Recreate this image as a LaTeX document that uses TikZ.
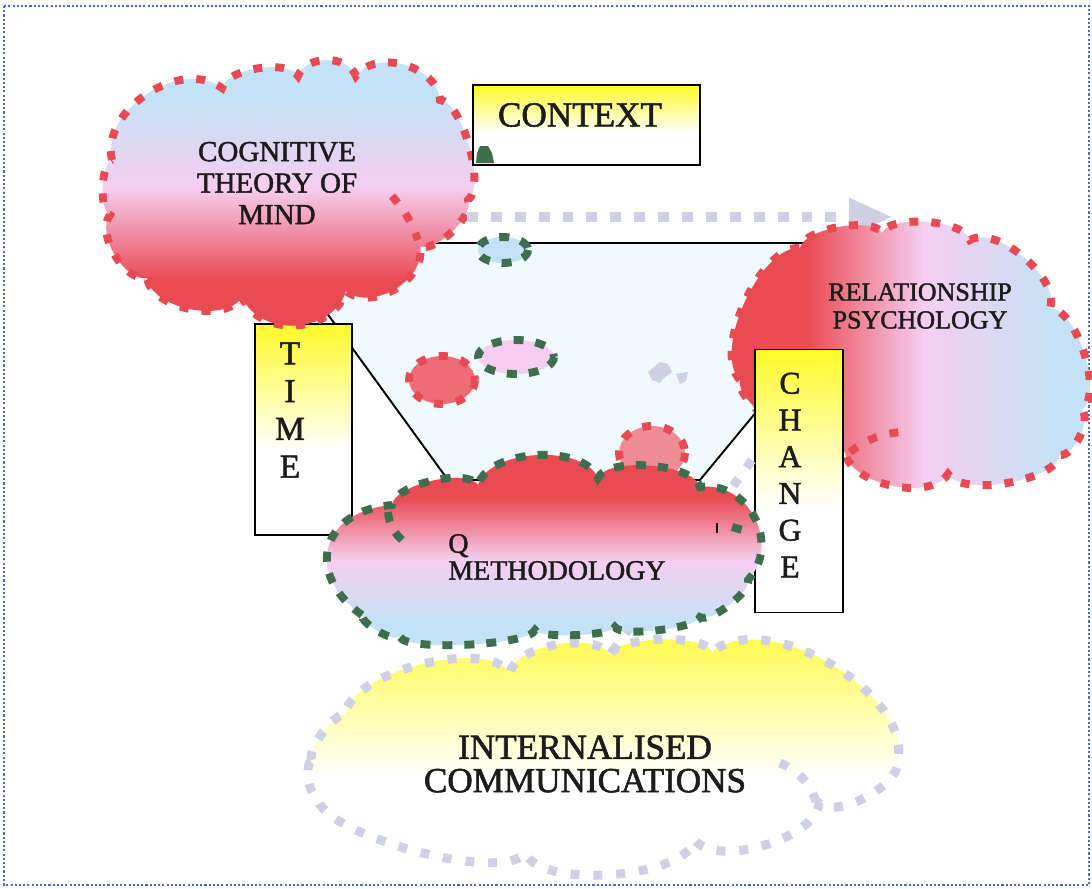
\documentclass[tikz,border=0pt]{standalone}
\usepackage{fontspec}
\setmainfont{Liberation Serif}
\newfontfamily\lblfont{Liberation Serif}[FakeBold=1.6]
\usetikzlibrary{arrows.meta}

\definecolor{cred}{RGB}{234,74,82}
\definecolor{cpink}{RGB}{246,206,240}
\definecolor{cblue}{RGB}{196,226,246}
\definecolor{cyel}{RGB}{255,250,40}
\definecolor{dred}{RGB}{232,74,84}
\definecolor{dgreen}{RGB}{62,110,78}
\definecolor{dlav}{RGB}{208,208,228}
\definecolor{pale}{RGB}{240,249,253}
\definecolor{bord}{RGB}{70,110,190}
\definecolor{ink}{RGB}{28,28,28}

% fills: yellow fading to white, and the three-colour cloud fills
\pgfdeclareverticalshading{yfade}{100bp}{color(0bp)=(white); color(45bp)=(white); color(75bp)=(cyel); color(100bp)=(cyel)}
\pgfdeclareverticalshading{ctomfill}{100bp}{color(0bp)=(cred); color(35bp)=(cred); color(51bp)=(cpink); color(66bp)=(cblue); color(100bp)=(cblue)}
\pgfdeclareverticalshading{qfill}{100bp}{color(0bp)=(cblue); color(32bp)=(cblue); color(47bp)=(cpink); color(62bp)=(cred); color(100bp)=(cred)}
\pgfdeclarehorizontalshading{rpfill}{100bp}{color(0bp)=(cred); color(37bp)=(cred); color(52bp)=(cpink); color(69bp)=(cblue); color(100bp)=(cblue)}

\tikzset{
  rdash/.style={draw=dred, line width=4.5pt, dash pattern=on 5.1pt off 7.4pt},
  gdash/.style={draw=dgreen, line width=4.5pt, dash pattern=on 5.7pt off 6.8pt},
  ldash/.style={draw=dlav, line width=5.1pt, dash pattern=on 5.1pt off 7.9pt},
  pf/.style={bend left=70, looseness=#1},
  labbox/.style={draw=black, line width=1.1pt, shade, shading=yfade, inner sep=0pt},
  txt/.style={text=ink, inner sep=0pt, align=center},
  lavarrow/.style={draw=dlav, line width=6.2pt, dash pattern=on 6.2pt off 7.4pt,
    -{Triangle[length=25pt,width=20pt]}},
}

\begin{document}
\begin{tikzpicture}[x={(0.02cm,0)}, y={(0,-0.02cm)}]
\useasboundingbox (0,0) rectangle (1092,889);

% page frame
\draw[bord, line width=1pt, dash pattern=on 1.2pt off 1.2pt] (4,6) rectangle (1089,885);

% pale linking trapezoid
\draw[fill=pale, draw=black, line width=1.1pt] (276,243) -- (896,243) -- (700,480) -- (448,480) -- cycle;

% TIME box
\node[labbox, minimum width=55pt, minimum height=119.6pt] (timebox) at (303.5,429.5) {};

% cognitive theory of mind cloud
\path[shade, shading=ctomfill, rdash]
  (112,160) to[pf=1.0] (222,88) to[pf=0.65] (298,76) to[pf=1.0] (356,76)
  to[pf=1.0] (440,100) to[pf=0.55] (468,200) to[pf=0.65] (420,246)
  to[pf=1.0] (346,291) to[pf=1.1] (242,297) to[pf=0.83] (147,278)
  to[pf=0.8] (110,215) to[pf=0.55] (112,160) -- cycle;
\draw[rdash] (392,196) to[bend left=10] (418,240);

% dotted arrow towards relationship psychology
\coordinate (arrS) at (467,217);
\coordinate (arrE) at (893,217);
\draw[lavarrow] (arrS) -- (arrE);

% relationship psychology cloud
\path[shade, shading=rpfill, rdash]
  (740,380) to[pf=0.7] (800,248) to[pf=0.6] (882,233) to[pf=0.6] (970,240)
  to[pf=0.75] (1050,308) to[pf=0.65] (1082,410) to[pf=0.7] (1060,455)
  to[pf=0.6] (948,474) to[pf=0.8] (845,452) to[pf=0.5] (740,380) -- cycle;
\draw[rdash] (850,452) to[bend left=15] (900,432);

% CHANGE and CONTEXT boxes
\node[labbox, minimum width=49.9pt, minimum height=149.7pt] (changebox) at (799,481) {};
\node[labbox, minimum width=128.7pt, minimum height=45.4pt] (contextbox) at (586.5,125) {};
\fill[dgreen] (476,163) -- (494,163) -- (492,153) -- (488,146) -- (480,146) -- (477,153) -- cycle;

% small clouds inside the trapezoid
\path[fill=cblue, gdash] (503,250) ellipse [x radius=25, y radius=13];
\path[fill={rgb,255:red,238;green,108;blue,118}, rdash] (442,380) ellipse [x radius=33, y radius=24];
\path[fill=cpink, gdash] (516,357) ellipse [x radius=38, y radius=17];
\fill[dlav] (648,372) -- (660,362) -- (668,364) -- (672,372) -- (664,378) -- (660,383) -- (652,380) -- cycle;
\fill[dlav] (676,374) -- (688,372) -- (686,381) -- (680,384) -- cycle;
\path[fill={rgb,255:red,240;green,140;blue,150}, rdash] (652,453) ellipse [x radius=33, y radius=27];

% internalised communications cloud
\path[shade, shading=yfade, ldash]
  (312,760) to[pf=0.5] (345,715) to[pf=0.65] (510,673) to[pf=0.7] (610,655)
  to[pf=0.5] (712,652) to[pf=0.83] (898,760) to[pf=0.7] (819,803)
  to[pf=0.7] (695,840) to[pf=0.6] (525,853) to[pf=0.45] (317,797)
  to[pf=0.6] (312,760) -- cycle;
\draw[ldash] (780,763) to[bend left=25] (817,805);
\coordinate (lavA) at (612,652);
\coordinate (lavB) at (752,460);
\draw[ldash] (lavA) -- (lavB);

% Q methodology cloud
\path[shade, shading=qfill, gdash]
  (362,615) to[pf=1.6] (392,505) to[pf=0.6] (478,485) to[pf=0.8] (598,478)
  to[pf=0.6] (700,487) to[pf=1.2] (748,580) to[pf=0.5] (700,617)
  to[pf=0.35] (615,627) to[pf=0.3] (535,630) to[pf=0.3] (400,637)
  to[pf=0.5] (362,615) -- cycle;
\draw[gdash] (388,512) to[bend right=20] (402,540);
\draw[gdash] (732,527) -- (753,533);
\draw[line width=0.8pt] (717,523) -- (717,533);

% labels
\node[txt, font=\lblfont\fontsize{16.5}{17.9}\selectfont] (ctomtxt) at (277,183) {COGNITIVE\\THEORY OF\\MIND};
\node[txt, font=\lblfont\fontsize{20}{22}\selectfont] (contexttxt) at (580,115) {CONTEXT};
\node[txt, font=\lblfont\fontsize{14.8}{15.9}\selectfont] (rptxt) at (920,306) {RELATIONSHIP\\PSYCHOLOGY};
\node[txt, align=left, anchor=west, font=\lblfont\fontsize{15.9}{15.3}\selectfont] (qtxt) at (448,557) {Q\\METHODOLOGY};
\node[txt, font=\lblfont\fontsize{20}{19}\selectfont] (ictxt) at (585,764) {INTERNALISED\\COMMUNICATIONS};
\node[txt, font=\lblfont\fontsize{19}{21.5}\selectfont] (timetxt) at (290,410) {T\\I\\M\\E};
\node[txt, font=\lblfont\fontsize{18}{20.9}\selectfont] (changetxt) at (790,475) {C\\H\\A\\N\\G\\E};
\end{tikzpicture}
\end{document}
